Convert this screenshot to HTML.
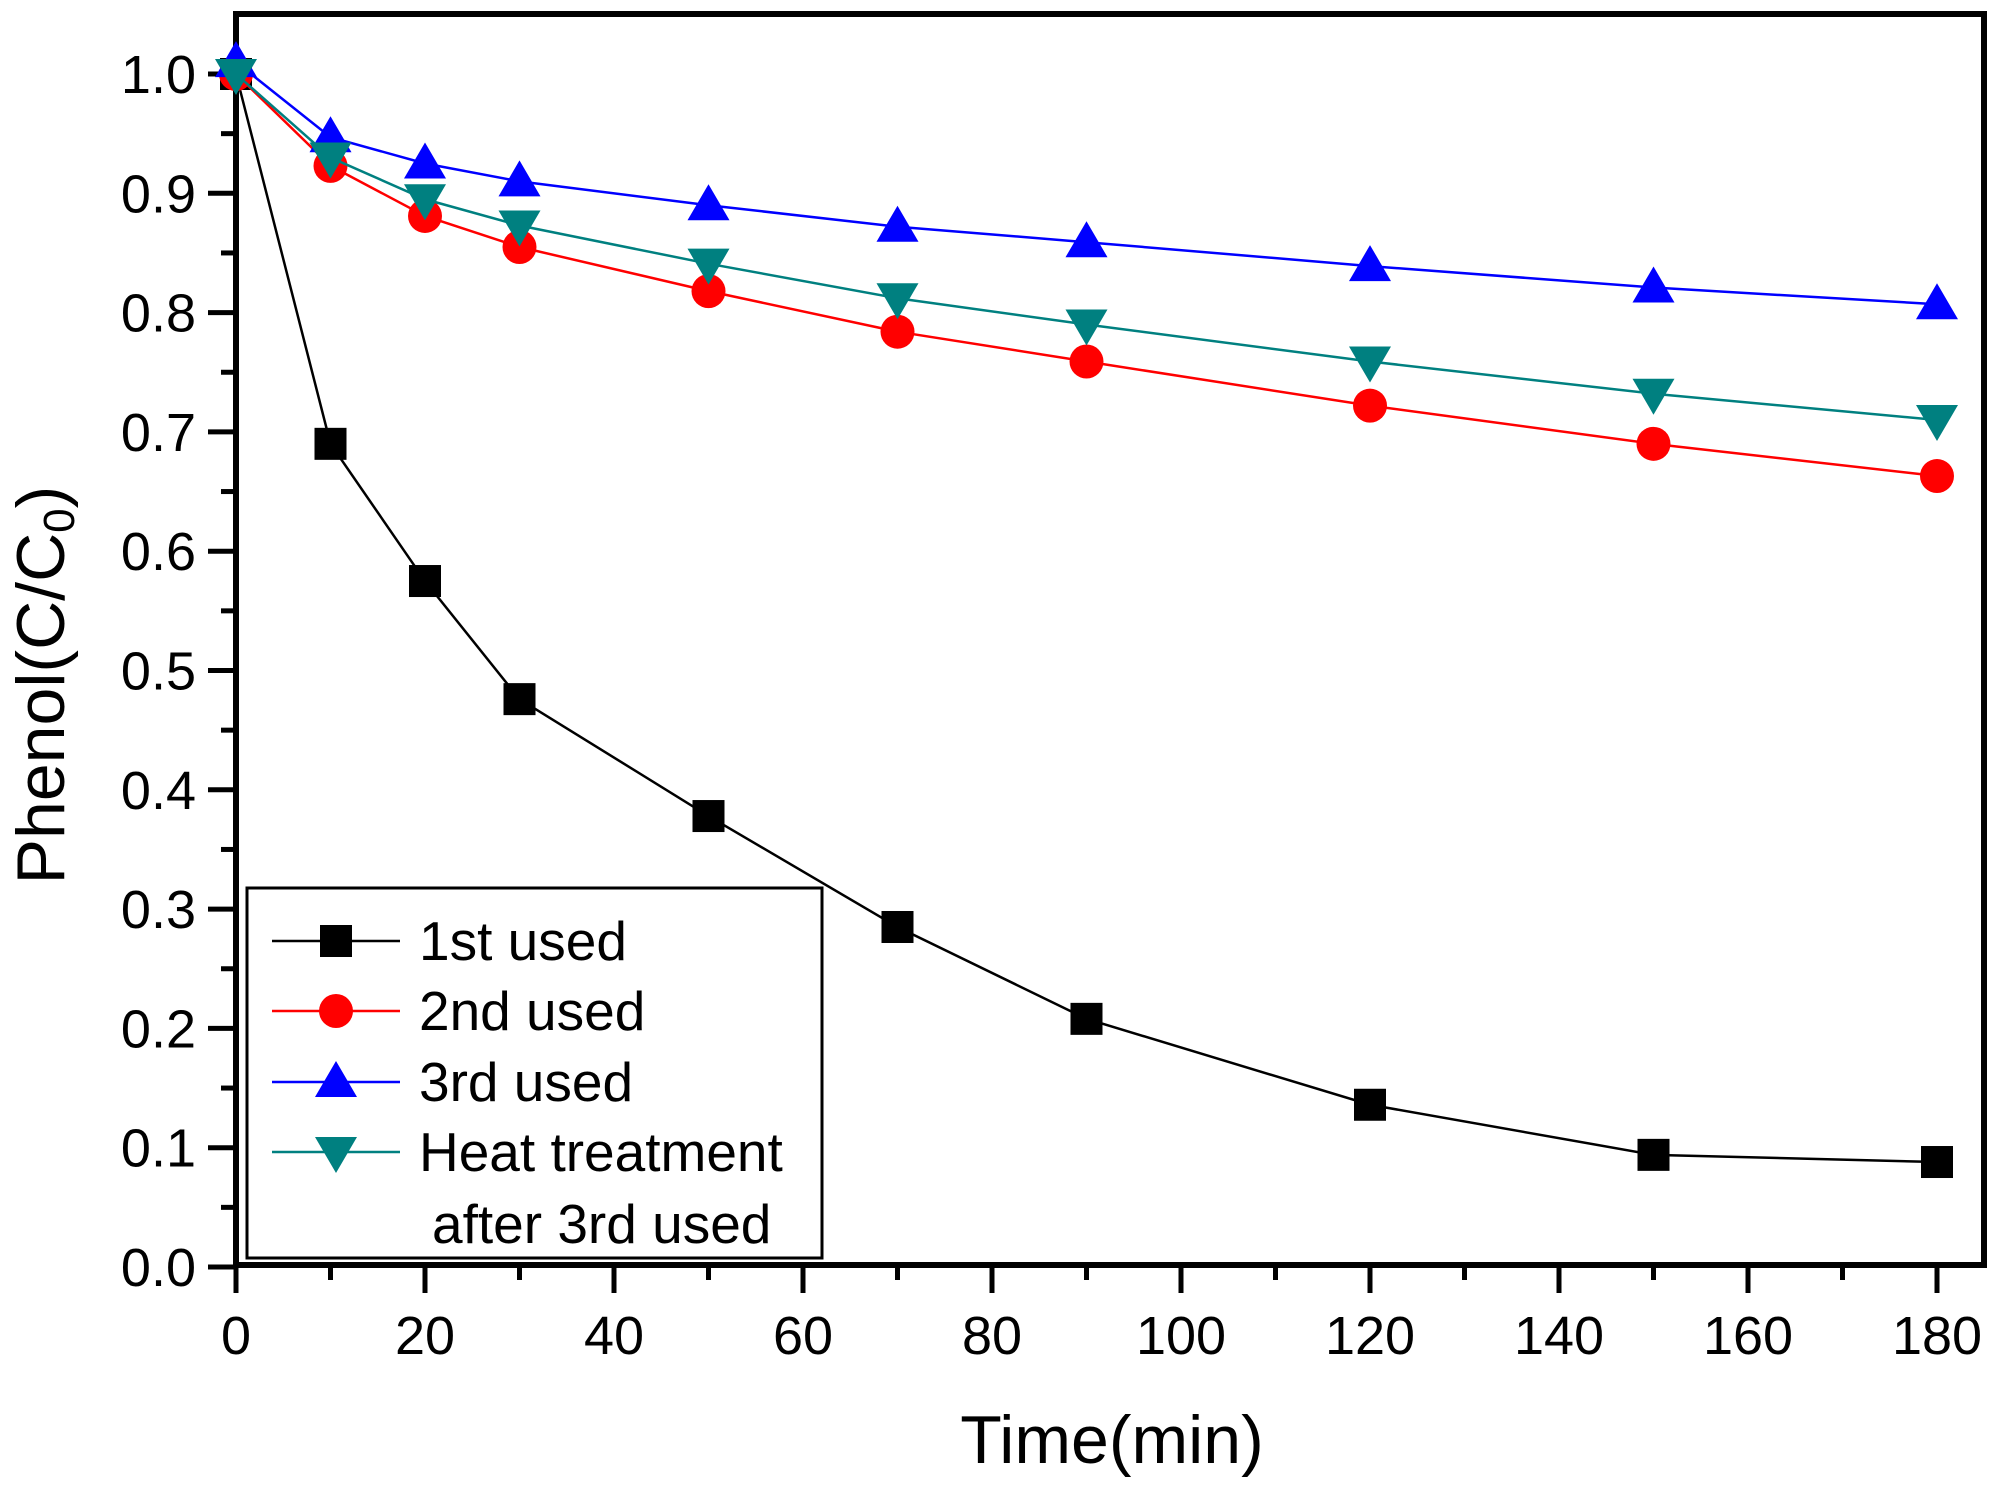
<!DOCTYPE html>
<html><head><meta charset="utf-8"><style>body{margin:0;background:#fff}svg{display:block}</style></head>
<body>
<svg id="chart" width="2002" height="1485" viewBox="0 0 2002 1485" xmlns="http://www.w3.org/2000/svg" font-family="Liberation Sans, Arial, sans-serif">
<rect width="2002" height="1485" fill="#fff"/>
<g id="plot"></g>
</svg>
<script>
const times = [0,10,20,30,50,70,90,120,150,180];
const used1 = [1.0,0.69,0.575,0.476,0.378,0.285,0.208,0.136,0.094,0.088];
const used2 = [1.0,0.923,0.881,0.855,0.818,0.784,0.759,0.722,0.690,0.663];
const used3 = [1.01,0.947,0.925,0.910,0.890,0.872,0.859,0.839,0.821,0.807];
const heat = [1.0,0.930,0.895,0.873,0.841,0.812,0.790,0.759,0.732,0.710];
const xTicks = [0,20,40,60,80,100,120,140,160,180];
const yTicks = [0.0,0.1,0.2,0.3,0.4,0.5,0.6,0.7,0.8,0.9,1.0];

const NS="http://www.w3.org/2000/svg";
const g=document.getElementById('plot');
const X0=236,X1=1984,Y0=1265,Y1=14;
function xs(v){return 236+v*(1937-236)/180;}
function ys(v){return 1267-v*1193;}
function mk(tag,attrs,parent){const e=document.createElementNS(NS,tag);for(const k in attrs)e.setAttribute(k,attrs[k]);(parent||g).appendChild(e);return e;}

xTicks.forEach((t,i)=>{
  const x=xs(t);
  const tk=mk('line',{x1:x,x2:x,y1:Y0,y2:Y0+28,stroke:'#000','stroke-width':5});
  
  
  const lb=mk('text',{x:x,y:1354,'font-size':54,'text-anchor':'middle'});
  lb.textContent=String(t);
  
  
  if(i<xTicks.length-1){
    const mx=xs(t+10);
    const m=mk('line',{x1:mx,x2:mx,y1:Y0,y2:Y0+15,stroke:'#000','stroke-width':5});
    
    
  }
});
yTicks.forEach((t,i)=>{
  const y=ys(t);
  const tk=mk('line',{x1:X0-28,x2:X0,y1:y,y2:y,stroke:'#000','stroke-width':5});
  
  
  const lb=mk('text',{x:196,y:y+19,'font-size':54,'text-anchor':'end'});
  lb.textContent=t.toFixed(1);
  
  
  if(i<yTicks.length-1){
    const my=ys(t+0.05);
    const m=mk('line',{x1:X0-15,x2:X0,y1:my,y2:my,stroke:'#000','stroke-width':5});
    
    
  }
});
const frame=mk('rect',{x:X0,y:Y1,width:X1-X0,height:Y0-Y1,fill:'none',stroke:'#000','stroke-width':6});



function marker(type,x,y,color,parent){
  const s=16;let e;
  if(type==='sq') e=mk('rect',{x:x-s,y:y-s,width:2*s,height:2*s,fill:color},parent);
  else if(type==='ci') e=mk('circle',{cx:x,cy:y,r:s+1,fill:color},parent);
  else if(type==='up') e=mk('polygon',{points:`${x},${y-21} ${x-21},${y+15} ${x+21},${y+15}`,fill:color},parent);
  else e=mk('polygon',{points:`${x},${y+21} ${x-21},${y-15} ${x+21},${y-15}`,fill:color},parent);
  return e;
}
const series=[
  {name:'series-1st-used',vals:used1,color:'#000',m:'sq'},
  {name:'series-2nd-used',vals:used2,color:'#f00',m:'ci'},
  {name:'series-3rd-used',vals:used3,color:'#00f',m:'up'},
  {name:'series-heat-treatment',vals:heat,color:'#008080',m:'dn'}
];
series.forEach(s=>{
  const sg=mk('g',{});
  
  
  const pl=mk('polyline',{points:times.map((t,i)=>xs(t)+','+ys(s.vals[i])).join(' '),fill:'none',stroke:s.color,'stroke-width':2.5},sg);
  
  
  times.forEach((t,i)=>{
    const p=marker(s.m,xs(t),ys(s.vals[i]),s.color,sg);
    
    
  });
});

const lg=mk('g',{});


const lbox=mk('rect',{x:247,y:888,width:575,height:370,fill:'#fff',stroke:'#000','stroke-width':3},lg);


const entries=[['1st used',941],['2nd used',1011],['3rd used',1082],['Heat treatment',1152]];
entries.forEach((e,i)=>{
  const s=series[i];
  const eg=mk('g',{},lg);
  
  
  mk('line',{x1:272,x2:400,y1:e[1],y2:e[1],stroke:s.color,'stroke-width':2.5},eg);
  marker(s.m,336,e[1],s.color,eg);
  const t=mk('text',{x:419,y:e[1]+19,'font-size':55},eg);
  t.textContent=e[0];
});
const t2=mk('text',{x:432,y:1243,'font-size':55},lg);
t2.textContent='after 3rd used';



const xt=mk('text',{x:1112,y:1463,'font-size':68,'text-anchor':'middle'});
xt.textContent='Time(min)';


const yt=mk('text',{x:0,y:0,'font-size':68,'text-anchor':'middle',transform:'translate(64,685) rotate(-90)'});
yt.innerHTML='Phenol(C/C<tspan font-size="44" dy="10">0</tspan><tspan dy="-10">)</tspan>';


</script>
</body></html>
